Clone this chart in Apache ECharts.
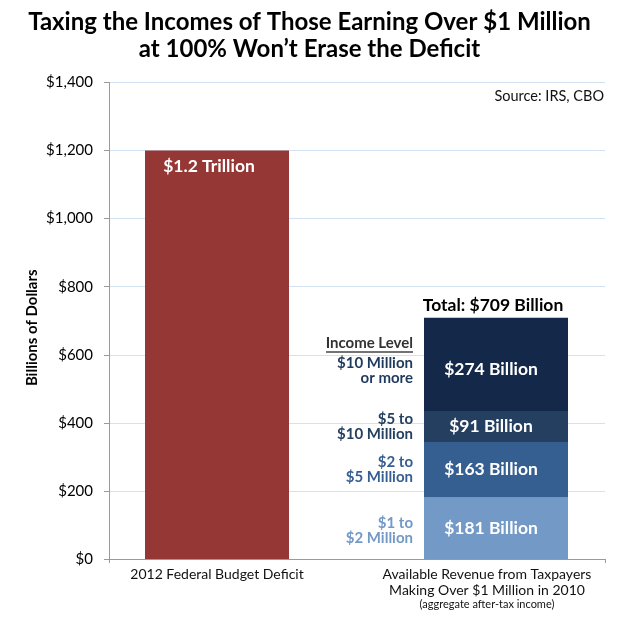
<!DOCTYPE html>
<html>
<head>
<meta charset="utf-8">
<script src="https://cdn.jsdelivr.net/npm/echarts@6/dist/echarts.min.js"></script>
<style>
html,body{margin:0;padding:0;background:#fff;}
#c{width:619px;height:620px;}
</style>
</head>
<body>
<div id="c"></div>
<script>
// ---- data ----
const titleLines = ['Taxing the Incomes of Those Earning Over $1 Million', 'at 100% Won\u2019t Erase the Deficit'];
const sourceText = 'Source: IRS, CBO';
const yAxisName = 'Billions of Dollars';
const categories = ['2012 Federal Budget Deficit', 'Available Revenue from Taxpayers\nMaking Over $1 Million in 2010'];
const categoryNote = '(aggregate after-tax income)';
const deficitValues = [1200, '-'];
const deficitLabel = '$1.2 Trillion';
const tierNames = ['$1 to $2 Million', '$2 to $5 Million', '$5 to $10 Million', '$10 Million or more'];
const tierLabelLines = [['$1 to', '$2 Million'], ['$2 to', '$5 Million'], ['$5 to', '$10 Million'], ['$10 Million', 'or more']];
const tierValues = [181, 163, 91, 274];
const incomeLevelHeader = 'Income Level';
const yMin = 0, yMax = 1400, yStep = 200;

// ---- styles ----
const FONT = 'Lato, "Open Sans", sans-serif';
const tierColors = ['#7399C6', '#365F91', '#243F60', '#14284A'];
const tierTextColors = ['#7399C6', '#365F91', '#243F60', '#1F3A5F'];
const deficitColor = '#953735';
const SIDE_FS = 15;

const total = tierValues.reduce((a, b) => a + b, 0);

// width of the "Income Level" header, for its underline
const mctx = document.createElement('canvas').getContext('2d');
mctx.font = 'bold ' + SIDE_FS + 'px ' + FONT;
const headerWidth = Math.round(mctx.measureText(incomeLevelHeader).width);

const chart = echarts.init(document.getElementById('c'), null, { renderer: 'canvas' });

const series = [];
series.push({
  name: 'Deficit', type: 'bar', stack: 'main', xAxisIndex: 1, yAxisIndex: 1,
  barWidth: 144, data: deficitValues,
  itemStyle: { color: deficitColor },
  label: { show: true, position: 'insideTop', distance: 7, offset: [-8, 0],
    color: '#fff', fontFamily: FONT, fontWeight: 'bold', fontSize: 17.5,
    formatter: () => deficitLabel }
});
tierValues.forEach((v, i) => {
  series.push({
    name: tierNames[i], type: 'bar', stack: 'main', xAxisIndex: 1, yAxisIndex: 1,
    barWidth: 144, data: ['-', v],
    itemStyle: { color: tierColors[i] },
    label: { show: true, position: 'inside', offset: [-5, i === 3 ? 5 : 0],
      color: '#fff', fontFamily: FONT, fontWeight: 'bold', fontSize: 17.5,
      formatter: (p) => '$' + p.value + ' Billion' }
  });
});
tierValues.forEach((v, i) => {
  const lines = tierLabelLines[i].map(t => '{n|' + t + '}').join('\n');
  const text = i === 3
    ? '{u|' + incomeLevelHeader + '}\n{ul|}\n{sp|}\n' + lines
    : lines;
  series.push({
    name: tierNames[i] + ' label', type: 'bar', stack: 'labels', xAxisIndex: 2, yAxisIndex: 1,
    barWidth: 144, data: ['-', v], silent: true,
    itemStyle: { color: 'rgba(0,0,0,0)' },
    label: { show: true, position: 'left', distance: 11,
      offset: [0, i === 3 ? -4 : (i === 0 ? 2 : 0)],
      formatter: () => text,
      rich: {
        n: { color: tierTextColors[i], fontFamily: FONT, fontWeight: 'bold', fontSize: SIDE_FS, lineHeight: 15, align: 'right' },
        u: { color: '#333', fontFamily: FONT, fontWeight: 'bold', fontSize: SIDE_FS, lineHeight: 16, align: 'right' },
        ul: { width: headerWidth, height: 1.5, lineHeight: 1.5, backgroundColor: '#444', align: 'right' },
        sp: { height: 2.5, lineHeight: 2.5, align: 'right' }
      }
    }
  });
});
series.push({
  name: 'Total', type: 'bar', xAxisIndex: 3, yAxisIndex: 1, barWidth: 144,
  data: ['-', total], silent: true,
  itemStyle: { color: 'rgba(0,0,0,0)' },
  label: { show: true, position: 'top', distance: 3, offset: [-3, 0],
    color: '#000', fontFamily: FONT, fontWeight: 'bold', fontSize: 17.5,
    formatter: (p) => 'Total: $' + p.value + ' Billion' }
});

const option = {
  backgroundColor: '#fff',
  animation: false,
  title: [
    { text: titleLines.join('\n'), left: 'center', top: 4,
      textStyle: { fontFamily: FONT, fontWeight: 'bold', fontSize: 24, lineHeight: 27, color: '#000' } },
    { text: sourceText, right: 10, top: 84,
      textStyle: { fontFamily: FONT, fontWeight: 'normal', fontSize: 14.5, color: '#111' } }
  ],
  grid: [
    { left: 109, right: 14, top: 82.5, bottom: 61, outerBoundsMode: 'none', containLabel: false },
    { left: 77.5, width: 558, top: 82.5, bottom: 61, outerBoundsMode: 'none', containLabel: false }
  ],
  xAxis: [
    { type: 'value', gridIndex: 0, min: 0, max: 1, interval: 1,
      axisLine: { show: true, lineStyle: { color: '#9a9a9a', width: 1 } },
      axisTick: { show: true, length: 4, lineStyle: { color: '#9a9a9a' } },
      axisLabel: { show: false }, splitLine: { show: false } },
    { type: 'category', gridIndex: 1,
      data: [categories[0], { value: categories[1] + '\n{s|' + categoryNote + '}', textStyle: { padding: [0, 18, 0, 0] } }],
      axisLine: { show: false }, axisTick: { show: false },
      axisLabel: { margin: 7, color: '#111', fontFamily: FONT, fontSize: 14, lineHeight: 16, interval: 0,
        rich: { s: { fontFamily: FONT, fontSize: 11, lineHeight: 13, color: '#111' } } } },
    { type: 'category', gridIndex: 1, data: categories, show: false },
    { type: 'category', gridIndex: 1, data: categories, show: false }
  ],
  yAxis: [
    { type: 'value', gridIndex: 0, min: yMin, max: yMax, interval: yStep,
      name: yAxisName, nameLocation: 'middle', nameGap: 69, nameMoveOverlap: false,
      nameTextStyle: { fontFamily: FONT, fontWeight: 'bold', fontSize: 15, color: '#000', padding: [0, 14, 0, 0] },
      axisLine: { show: true, lineStyle: { color: '#9a9a9a', width: 1 } },
      axisTick: { show: true, length: 5, lineStyle: { color: '#9a9a9a' } },
      axisLabel: { margin: 16, color: '#000', fontFamily: FONT, fontSize: 15,
        formatter: (v) => '$' + v.toLocaleString('en-US') },
      splitLine: { show: true, lineStyle: { color: '#D3E2F3', width: 1 } } },
    { type: 'value', gridIndex: 1, min: yMin, max: yMax, show: false, splitLine: { show: false } }
  ],
  series: series
};
chart.setOption(option);
</script>
</body>
</html>
